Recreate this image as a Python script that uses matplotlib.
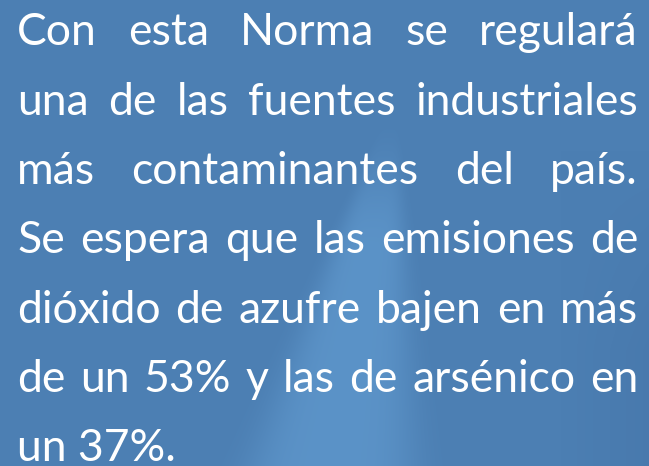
import numpy as np
import matplotlib
matplotlib.use("Agg")
import matplotlib.pyplot as plt

# ---- content ----
lines = [
    "Con esta Norma se regulará",
    "una de las fuentes industriales",
    "más contaminantes del país.",
    "Se espera que las emisiones de",
    "dióxido de azufre bajen en más",
    "de un 53% y las de arsénico en",
    "un 37%.",
]
justified = [True, True, True, True, True, True, False]
baselines = [45, 115, 184, 253, 323, 392, 461]

W, H = 649, 466
LEFT, RIGHT = 17, 638
FONT = "Lato"
FS = 32

fig = plt.figure(figsize=(W / 100, H / 100), dpi=100)
ax = fig.add_axes([0, 0, 1, 1])
ax.set_xlim(0, W)
ax.set_ylim(H, 0)
ax.axis("off")

# ---- background: blue with a faint lighter plume ----
yy, xx = np.mgrid[0:H, 0:W].astype(float)
base = np.array([76, 127, 179]) / 255.0
light = np.array([96, 153, 206]) / 255.0
dark = np.array([70, 118, 170]) / 255.0
t = np.clip((yy - 110) / 140.0, 0, 1)
t = t * t * (3 - 2 * t)
cx = 392 - 0.17 * (yy - 110)
hw = 6 + 0.22 * np.clip(yy - 110, 0, None)
plume = np.exp(-((xx - cx) / hw) ** 4) * t
edge = np.clip((xx - 560) / 89.0, 0, 1) * np.clip((yy - 150) / 200.0, 0, 1)
img = base[None, None, :] * np.ones((H, W, 1))
img = img + (light - base)[None, None, :] * plume[..., None] * 0.75
img = img + (dark - base)[None, None, :] * edge[..., None] * 0.6
img = np.clip(img, 0, 1)
ax.imshow(img, extent=[0, W, H, 0], aspect="auto", zorder=0,
          interpolation="bilinear")

# ---- justified text ----
renderer = fig.canvas.get_renderer()


def width_of(s):
    tt = ax.text(0, 0, s, fontsize=FS, family=FONT)
    bb = tt.get_window_extent(renderer=renderer)
    tt.remove()
    return bb.width


for line, just, yb in zip(lines, justified, baselines):
    words = line.split(" ")
    if just and len(words) > 1:
        widths = [width_of(w) for w in words]
        gap = (RIGHT - LEFT - sum(widths)) / (len(words) - 1)
        x = LEFT
        for w, wd in zip(words, widths):
            ax.text(x, yb, w, fontsize=FS, family=FONT,
                    color="white", va="baseline", ha="left", zorder=2)
            x += wd + gap
    else:
        ax.text(LEFT, yb, line, fontsize=FS, family=FONT,
                color="white", va="baseline", ha="left", zorder=2)

fig.savefig("out.png", dpi=100)
